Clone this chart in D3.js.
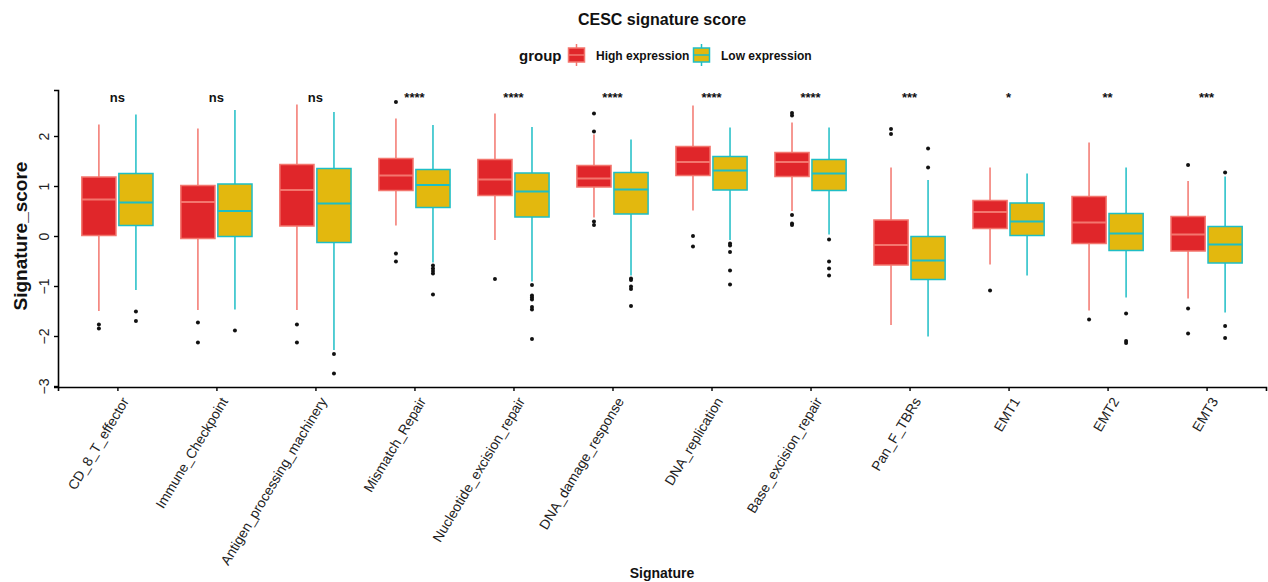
<!DOCTYPE html>
<html>
<head>
<meta charset="utf-8">
<script src="https://cdn.jsdelivr.net/npm/d3@7"></script>
<style>
  html, body { margin: 0; padding: 0; background: #fff; }
  svg { display: block; font-family: "Liberation Sans", Arial, sans-serif; }
</style>
</head>
<body>
<svg id="chart" width="1268" height="582"></svg>
<script>
// Signature categories along the x axis
const categories = ["CD_8_T_effector", "Immune_Checkpoint", "Antigen_processing_machinery",
  "Mismatch_Repair", "Nucleotide_excision_repair", "DNA_damage_response", "DNA_replication",
  "Base_excision_repair", "Pan_F_TBRs", "EMT1", "EMT2", "EMT3"];

// Significance labels above each pair of boxes
const sigLabels = ["ns", "ns", "ns", "****", "****", "****", "****", "****", "***", "*", "**", "***"];

const groups = ["High expression", "Low expression"];
const yTicks = [-3, -2, -1, 0, 1, 2];

// High expression group: five-number summaries and outliers
const highLower  = [-1.50, -1.48, -1.48, 0.21, -0.08, 0.37, 0.51, 0.50, -1.78, -0.57, -1.49, -1.25];
const highQ1     = [0.01, -0.05, 0.20, 0.91, 0.81, 0.98, 1.21, 1.19, -0.58, 0.15, -0.15, -0.30];
const highMedian = [0.73, 0.68, 0.92, 1.21, 1.13, 1.15, 1.48, 1.48, -0.18, 0.48, 0.27, 0.03];
const highQ3     = [1.18, 1.01, 1.43, 1.55, 1.53, 1.41, 1.79, 1.67, 0.32, 0.71, 0.79, 0.39];
const highUpper  = [2.23, 2.15, 2.63, 2.35, 2.45, 2.03, 2.61, 2.27, 1.37, 1.37, 1.87, 1.10];
const highOutliers = [
  [-1.77, -1.85], [-1.73, -2.13], [-1.77, -2.13], [2.68, -0.35, -0.51], [-0.86],
  [2.45, 2.09, 0.29, 0.22], [0.00, -0.21], [2.46, 2.41, 0.42, 0.25, 0.22], [2.14, 2.04],
  [-1.09], [-1.67], [1.42, -1.45, -1.95]
];

// Low expression group: five-number summaries and outliers
const lowLower  = [-1.08, -1.47, -2.28, -0.53, -0.91, -0.79, -0.08, 0.03, -2.01, -0.79, -1.23, -1.53];
const lowQ1     = [0.21, -0.01, -0.13, 0.57, 0.38, 0.44, 0.92, 0.91, -0.87, 0.01, -0.29, -0.54];
const lowMedian = [0.67, 0.50, 0.65, 1.02, 0.89, 0.93, 1.31, 1.25, -0.49, 0.29, 0.05, -0.17];
const lowQ3     = [1.25, 1.04, 1.35, 1.33, 1.26, 1.27, 1.59, 1.53, -0.01, 0.66, 0.45, 0.19];
const lowUpper  = [2.43, 2.52, 2.48, 2.22, 2.18, 1.93, 2.17, 2.17, 1.12, 1.25, 1.37, 1.19];
const lowOutliers = [
  [-1.51, -1.70], [-1.89], [-2.36, -2.75], [-0.59, -0.65, -0.70, -0.75, -1.17],
  [-0.98, -1.19, -1.23, -1.27, -1.42, -1.47, -2.06], [-0.85, -0.88, -1.01, -1.06, -1.40],
  [-0.15, -0.19, -0.32, -0.69, -0.97], [-0.07, -0.51, -0.65, -0.79], [1.75, 1.37],
  [], [-1.55, -2.10, -2.14], [1.27, -1.80, -2.04]
];

const fills   = ["#E0262A", "#E3B80E"];
const strokes = ["#F3766E", "#1EBEC6"];

// Build per-box records from the arrays above
const boxes = [];
categories.forEach((c, i) => {
  boxes.push({ cat: c, g: 0, lo: highLower[i], q1: highQ1[i], med: highMedian[i], q3: highQ3[i], hi: highUpper[i], out: highOutliers[i] });
  boxes.push({ cat: c, g: 1, lo: lowLower[i], q1: lowQ1[i], med: lowMedian[i], q3: lowQ3[i], hi: lowUpper[i], out: lowOutliers[i] });
});

const svg = d3.select("#chart");
const plotLeft = 58, plotRight = 1266, plotTop = 90, plotBottom = 387;

const x = d3.scalePoint().domain(categories).range([plotLeft, plotRight]).padding(0.6);
const y = d3.scaleLinear().domain([-3.02, 2.92]).range([plotBottom, plotTop]);
const step = x.step();
const boxW = step * 0.345;
const offset = step * 0.187;
const cx = d => x(d.cat) + (d.g === 0 ? -offset : offset);

// Title
svg.append("text").attr("x", 662).attr("y", 25).attr("text-anchor", "middle")
  .attr("font-size", 16).attr("font-weight", "bold").attr("fill", "#111")
  .text("CESC signature score");

// Legend
const legend = svg.append("g");
legend.append("text").attr("x", 519).attr("y", 61).attr("font-size", 15)
  .attr("font-weight", "bold").attr("fill", "#111").text("group");
const legendX = [567, 692];
const legendTextX = [596, 721];
groups.forEach((g, i) => {
  const k = legend.append("g").attr("transform", `translate(${legendX[i]},0)`);
  k.append("line").attr("x1", 9.5).attr("x2", 9.5).attr("y1", 44).attr("y2", 66)
    .attr("stroke", strokes[i]).attr("stroke-width", 1.5);
  k.append("rect").attr("x", 1.5).attr("y", 48).attr("width", 16).attr("height", 14)
    .attr("fill", fills[i]).attr("stroke", strokes[i]).attr("stroke-width", 1.5);
  k.append("line").attr("x1", 1.5).attr("x2", 17.5).attr("y1", 55).attr("y2", 55)
    .attr("stroke", strokes[i]).attr("stroke-width", 1.5);
  legend.append("text").attr("x", legendTextX[i]).attr("y", 60).attr("font-size", 12)
    .attr("font-weight", "bold").attr("fill", "#111").text(g);
});

// Whiskers
const bx = svg.append("g");
bx.selectAll("line.wlow").data(boxes).join("line").attr("class", "wlow")
  .attr("x1", cx).attr("x2", cx).attr("y1", d => y(d.q1)).attr("y2", d => y(d.lo))
  .attr("stroke", d => strokes[d.g]).attr("stroke-width", 1.5);
bx.selectAll("line.whigh").data(boxes).join("line").attr("class", "whigh")
  .attr("x1", cx).attr("x2", cx).attr("y1", d => y(d.q3)).attr("y2", d => y(d.hi))
  .attr("stroke", d => strokes[d.g]).attr("stroke-width", 1.5);

// Boxes
bx.selectAll("rect").data(boxes).join("rect")
  .attr("x", d => cx(d) - boxW / 2).attr("width", boxW)
  .attr("y", d => y(d.q3)).attr("height", d => y(d.q1) - y(d.q3))
  .attr("fill", d => fills[d.g]).attr("stroke", d => strokes[d.g]).attr("stroke-width", 1.5);

// Medians
bx.selectAll("line.med").data(boxes).join("line").attr("class", "med")
  .attr("x1", d => cx(d) - boxW / 2).attr("x2", d => cx(d) + boxW / 2)
  .attr("y1", d => y(d.med)).attr("y2", d => y(d.med))
  .attr("stroke", d => strokes[d.g]).attr("stroke-width", 2);

// Outliers
const outPts = boxes.flatMap(d => d.out.map(v => ({ x: cx(d), v })));
bx.selectAll("circle").data(outPts).join("circle")
  .attr("cx", d => d.x).attr("cy", d => y(d.v)).attr("r", 2).attr("fill", "#111");

// Significance labels
svg.append("g").selectAll("text").data(categories).join("text")
  .attr("x", d => x(d)).attr("y", 102).attr("text-anchor", "middle")
  .attr("font-size", 13).attr("font-weight", "bold").attr("fill", "#111")
  .text((d, i) => sigLabels[i]);

// Y axis
const yAxis = svg.append("g").attr("transform", `translate(${plotLeft},0)`)
  .call(d3.axisLeft(y).tickValues(yTicks).tickSize(4).tickFormat(d => String(d).replace("-", "\u2212")));
yAxis.select(".domain").attr("stroke", "#000").attr("stroke-width", 1.6);
yAxis.selectAll(".tick line").attr("stroke", "#000").attr("stroke-width", 1.4);
yAxis.selectAll(".tick text").attr("font-size", 14).attr("fill", "#222")
  .attr("text-anchor", "middle").attr("x", null).attr("dy", null)
  .attr("transform", "translate(-9,0) rotate(-90)").attr("y", 0);

// X axis
const xAxis = svg.append("g").attr("transform", `translate(0,${plotBottom})`)
  .call(d3.axisBottom(x).tickSize(4));
xAxis.select(".domain").attr("stroke", "#000").attr("stroke-width", 1.6);
xAxis.selectAll(".tick line").attr("stroke", "#000").attr("stroke-width", 1.4);
xAxis.selectAll(".tick text").attr("font-size", 13.8).attr("fill", "#222")
  .attr("text-anchor", "end").attr("y", null).attr("dy", "0.72em")
  .attr("transform", "translate(3,9) rotate(-59)");

// Axis titles
svg.append("text").attr("x", 662).attr("y", 578).attr("text-anchor", "middle")
  .attr("font-size", 14).attr("font-weight", "bold").attr("fill", "#111").text("Signature");
svg.append("text").attr("transform", "translate(27,236) rotate(-90)").attr("text-anchor", "middle")
  .attr("font-size", 19).attr("font-weight", "bold").attr("fill", "#111").text("Signature_score");
</script>
</body>
</html>
